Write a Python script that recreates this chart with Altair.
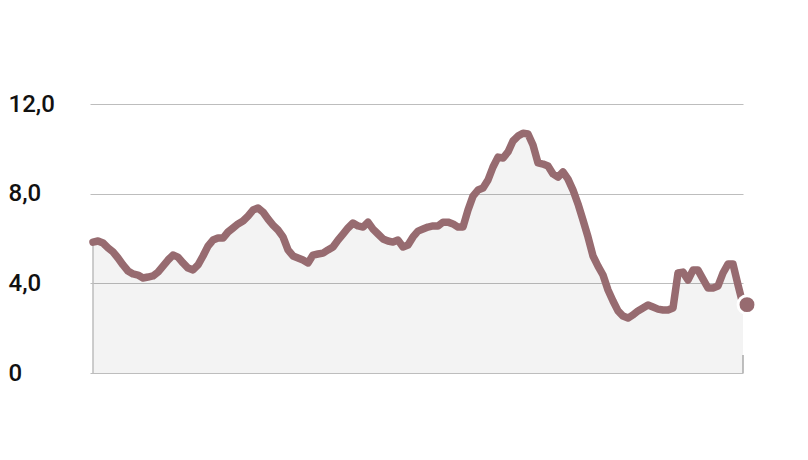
import altair as alt
import pandas as pd

values = [
    5.84, 5.89, 5.80, 5.58, 5.40, 5.13, 4.82, 4.55, 4.42, 4.37,
    4.24, 4.28, 4.33, 4.50, 4.77, 5.04, 5.26, 5.17, 4.91, 4.68,
    4.60, 4.82, 5.22, 5.66, 5.93, 6.02, 6.02, 6.29, 6.47, 6.65,
    6.78, 7.00, 7.27, 7.36, 7.18, 6.87, 6.60, 6.38, 6.07, 5.49,
    5.22, 5.13, 5.04, 4.91, 5.26, 5.31, 5.35, 5.49, 5.62, 5.93,
    6.20, 6.47, 6.69, 6.56, 6.51, 6.73, 6.42, 6.20, 5.98, 5.89,
    5.84, 5.93, 5.62, 5.71, 6.07, 6.33, 6.42, 6.51, 6.56, 6.56,
    6.73, 6.73, 6.65, 6.51, 6.51, 7.27, 7.89, 8.16, 8.25, 8.61,
    9.19, 9.63, 9.59, 9.86, 10.35, 10.57, 10.70, 10.66, 10.17, 9.37,
    9.32, 9.23, 8.88, 8.74, 8.97, 8.65, 8.16, 7.54, 6.82, 6.07,
    5.22, 4.77, 4.37, 3.70, 3.21, 2.77, 2.54, 2.45, 2.59, 2.77,
    2.90, 3.03, 2.94, 2.85, 2.81, 2.81, 2.90, 4.46, 4.50, 4.15,
    4.59, 4.59, 4.19, 3.79, 3.79, 3.88, 4.46, 4.86, 4.86, 3.93,
    3.05,
]
periods = list(range(len(values)))
y_ticks = [0, 4, 8, 12]

df = pd.DataFrame({"t": periods, "v": values})
df["base"] = 0.0
df["tick_top"] = 0.8
n_last = periods[-1]

LINE = "#976b70"
GRID = "#bdbdbd"

xscale = alt.Scale(domain=[-0.6, n_last], nice=False, zero=False)
yscale = alt.Scale(domain=[0, 12], nice=False)
yaxis = alt.Axis(
    values=y_ticks,
    title=None,
    domain=False,
    ticks=False,
    grid=True,
    gridColor=GRID,
    gridWidth=1,
    labelAlign="left",
    labelPadding=82,
    labelFont="Roboto",
    labelFontSize=24,
    labelFontWeight=500,
    labelColor="#111111",
    labelExpr="datum.value == 0 ? '0' : datum.value + ',0'",
)


def X():
    return alt.X("t:Q", scale=xscale, axis=None)


def Y(field):
    return alt.Y(field + ":Q", scale=yscale, axis=yaxis)


base = alt.Chart(df)

area = base.mark_area(color="#000000", fillOpacity=0.048).encode(x=X(), y=Y("v"))

left_rule = (
    base.transform_filter(alt.datum.t == 0)
    .mark_rule(color=GRID, strokeWidth=1.5)
    .encode(x=X(), y=Y("base"), y2=alt.Y2("v:Q"))
)
right_tick = (
    base.transform_filter(alt.datum.t == n_last)
    .mark_rule(color="#aaaaaa", strokeWidth=1.5)
    .encode(x=X(), y=Y("base"), y2=alt.Y2("tick_top:Q"))
)

line = base.mark_line(
    color=LINE, strokeWidth=7.5, strokeCap="round", strokeJoin="round"
).encode(x=X(), y=Y("v"))

dot = (
    base.transform_filter(alt.datum.t == n_last)
    .mark_circle(color=LINE, size=320, opacity=1, stroke="white", strokeWidth=3, xOffset=4)
    .encode(x=X(), y=Y("v"))
)

chart = (
    alt.layer(area, left_rule, right_tick, line, dot)
    .properties(width=653, height=269)
    .configure(autosize="none", padding={"left": 82, "top": 96, "right": 40, "bottom": 60})
    .configure_view(strokeWidth=0)
)

chart.save("out.html", embed_options={"renderer": "svg", "actions": False})
